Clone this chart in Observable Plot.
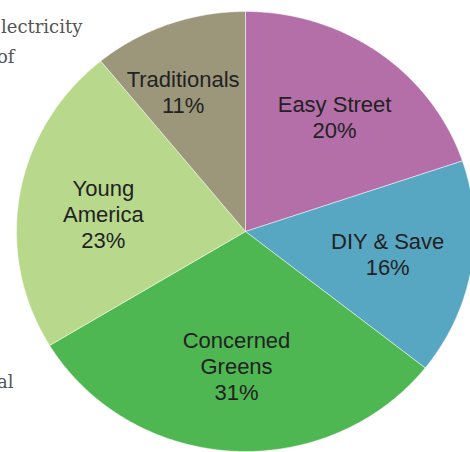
<!DOCTYPE html>
<html>
<head>
<meta charset="utf-8">
<script src="https://cdn.jsdelivr.net/npm/d3@7"></script>
<script src="https://cdn.jsdelivr.net/npm/@observablehq/plot@0.6"></script>
<style>
  html, body { margin: 0; padding: 0; background: #fff; }
  #wrap { position: relative; width: 470px; height: 452px; overflow: hidden; }
  .side { position: absolute; font-family: "DejaVu Serif", serif; font-size: 18px; color: #555; white-space: nowrap; }
</style>
</head>
<body>
<div id="wrap">
  <div id="chart"></div>
  <div class="side" style="left:1px; top:16px;">lectricity</div>
  <div class="side" style="left:-3px; top:46px;">of</div>
  <div class="side" style="left:-3px; top:371px;">al</div>
</div>
<script>
// Data
const segments = ["Easy Street", "DIY & Save", "Concerned Greens", "Young America", "Traditionals"];
const shares = [20, 16, 31, 23, 11];
const labelLines = ["Easy Street", "DIY & Save", "Concerned\nGreens", "Young\nAmerica", "Traditionals"];
const colors = ["#b46ea8", "#58a7c2", "#4eb752", "#b8d98b", "#9c977a"];

const table = segments.map((name, i) => ({name, value: shares[i], label: labelLines[i] + "\n" + shares[i] + "%"}));
const arcs = d3.pie().sort(null).value(d => d.value)(table);

// polygon outline for each slice (angle measured clockwise from top)
const slicePts = [];
for (const a of arcs) {
  const n = Math.max(2, Math.ceil((a.endAngle - a.startAngle) / 0.01));
  slicePts.push({name: a.data.name, x: 0, y: 0});
  for (let k = 0; k <= n; k++) {
    const t = a.startAngle + (a.endAngle - a.startAngle) * k / n;
    slicePts.push({name: a.data.name, x: Math.sin(t), y: Math.cos(t)});
  }
  slicePts.push({name: a.data.name, x: 0, y: 0});
}
const labelR = 0.63;
const labels = arcs.map(a => {
  const m = (a.startAngle + a.endAngle) / 2;
  return {name: a.data.name, label: a.data.label, x: labelR * Math.sin(m), y: labelR * Math.cos(m)};
});
// small best-fit nudges (pixels) for label placement
const nudge = {"Easy Street": [5, -2], "DIY & Save": [0, -1], "Concerned Greens": [0, -4], "Young America": [0, 6], "Traditionals": [-14, -9]};

const chart = Plot.plot({
  width: 470,
  height: 452,
  margin: 0,
  x: {domain: [-1, 1], range: [16, 474], axis: null},
  y: {domain: [-1, 1], range: [451, 11], axis: null},
  color: {domain: segments, range: colors},
  marks: [
    Plot.line(slicePts, {x: "x", y: "y", z: "name", fill: "name", stroke: "#ffffff", strokeWidth: 0.8, strokeOpacity: 0.6, curve: "linear"}),
    ...labels.map(l => Plot.text([l], {x: "x", y: "y", text: "label", dx: nudge[l.name][0], dy: nudge[l.name][1], fontSize: 22, lineHeight: 1.18, fontFamily: "'Liberation Sans', Arial, sans-serif", fill: "#222"}))
  ]
});
document.getElementById("chart").appendChild(chart);
</script>
</body>
</html>
